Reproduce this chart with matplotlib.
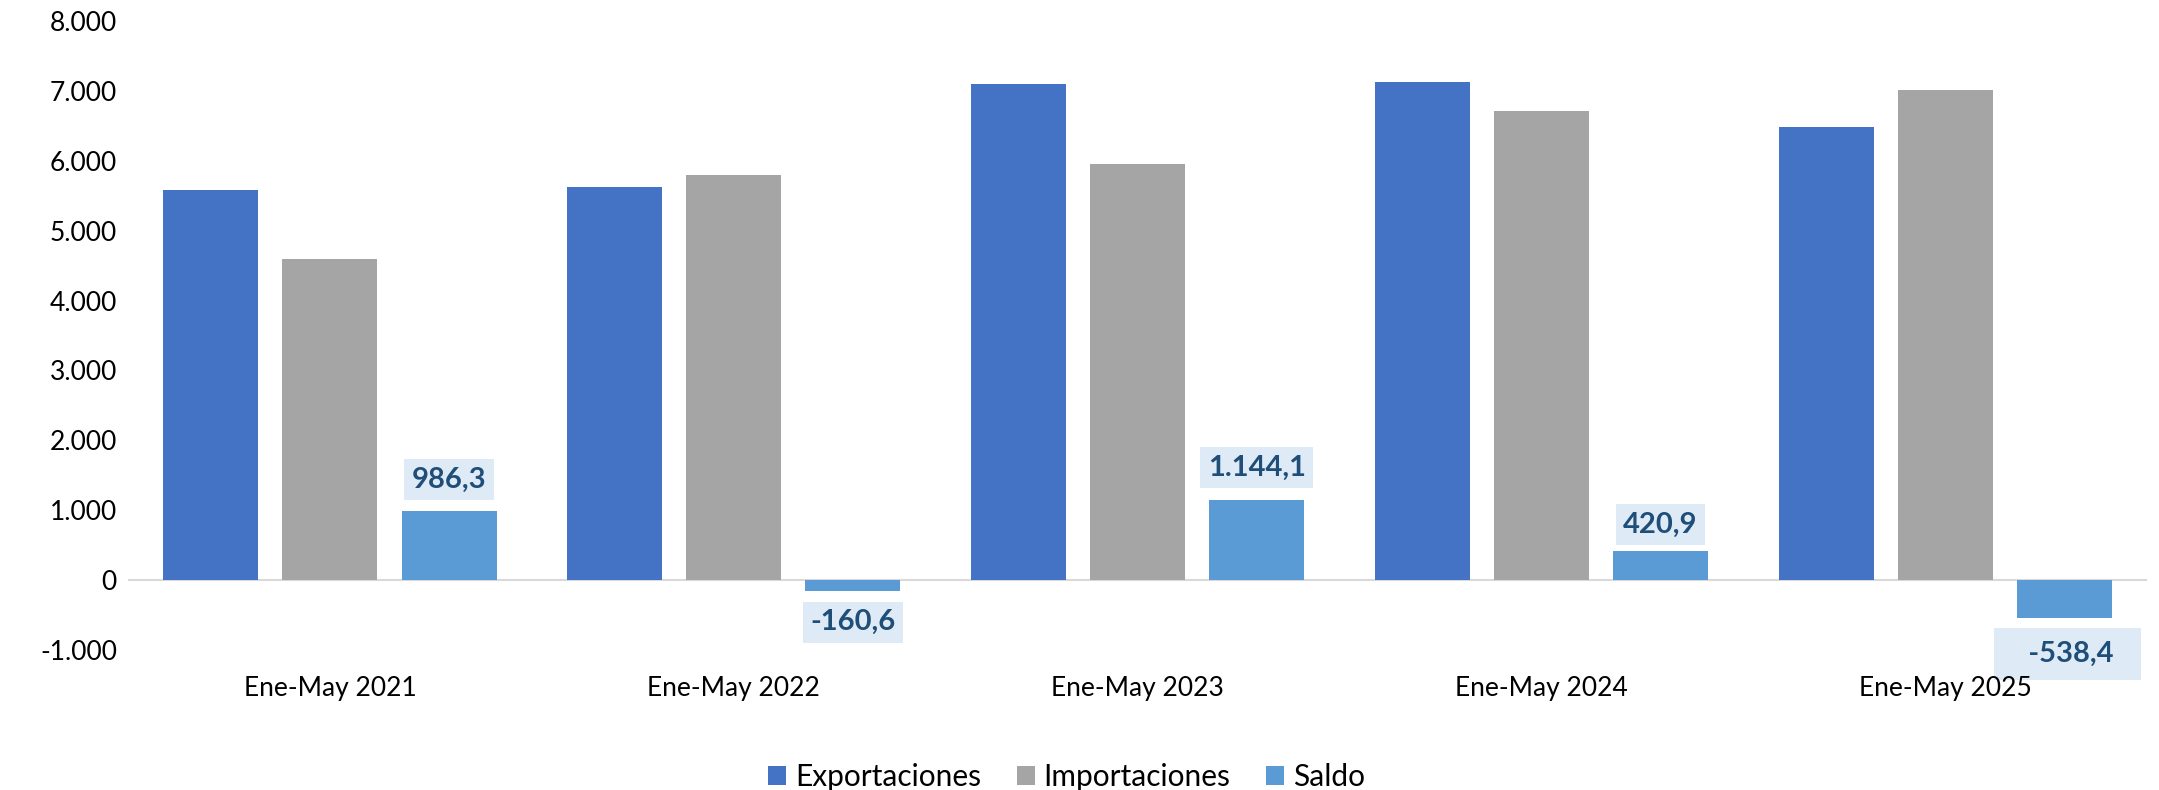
import matplotlib
matplotlib.use("Agg")
import matplotlib.pyplot as plt
import numpy as np

categories = ["Ene-May 2021", "Ene-May 2022", "Ene-May 2023", "Ene-May 2024", "Ene-May 2025"]
exportaciones = [5578, 5632, 7095, 7131, 6480]
importaciones = [4592, 5793, 5951, 6710, 7018]
saldo = [986.3, -160.6, 1144.1, 420.9, -538.4]
saldo_labels = ["986,3", "-160,6", "1.144,1", "420,9", "   -538,4  "]
yticks = [-1000, 0, 1000, 2000, 3000, 4000, 5000, 6000, 7000, 8000]
ytick_labels = ["-1.000", "0", "1.000", "2.000", "3.000", "4.000", "5.000", "6.000", "7.000", "8.000"]

plt.rcParams['font.family'] = ['Lato', 'DejaVu Sans']

fig = plt.figure(figsize=(21.59, 7.9), dpi=100)
ax = fig.add_axes([0.0593, 0.1772, 0.9352, 0.7962])

x = np.arange(len(categories))
w = 0.235
off = 0.295
c_exp, c_imp, c_sal = "#4472C4", "#A5A5A5", "#5B9BD5"
ax.bar(x - off, exportaciones, w, color=c_exp, label="Exportaciones", zorder=2)
ax.bar(x, importaciones, w, color=c_imp, label="Importaciones", zorder=2)
ax.bar(x + off, saldo, w, color=c_sal, label="Saldo", zorder=2)

ax.set_xlim(-0.5, len(categories) - 0.5)
ax.set_ylim(-1000, 8000)
ax.axhline(0, color="#D9D9D9", lw=1.5, zorder=1)

for s in ax.spines.values():
    s.set_visible(False)
ax.set_yticks(yticks)
ax.set_yticklabels(ytick_labels, fontsize=19)
ax.tick_params(axis='y', length=0, pad=8)
ax.set_xticks(x)
ax.set_xticklabels(categories, fontsize=19)
ax.tick_params(axis='x', length=0, pad=19)

# data labels (offsets in points)
offsets = [(0, 22.7), (0, -22.3), (0, 23.4), (0, 18.7), (2.5, -26)]
pads = [0.25, 0.25, 0.25, 0.25, 0.45]
for xi, v, t, o, p in zip(x + off, saldo, saldo_labels, offsets, pads):
    ax.annotate(t, xy=(xi, v), xytext=o, textcoords="offset points",
                ha="center", va="center", fontsize=21, fontweight="bold",
                color="#1F4E79", zorder=1.5,
                bbox=dict(boxstyle="square,pad=%s" % p, fc="#DEEBF7", ec="none"))

fig.legend(loc="center", bbox_to_anchor=(0.494, 0.017), ncol=3, frameon=False,
           fontsize=21.5, handlelength=0.6, handleheight=0.6, handletextpad=0.3,
           columnspacing=1.2)

fig.savefig("out.png", dpi=100)
